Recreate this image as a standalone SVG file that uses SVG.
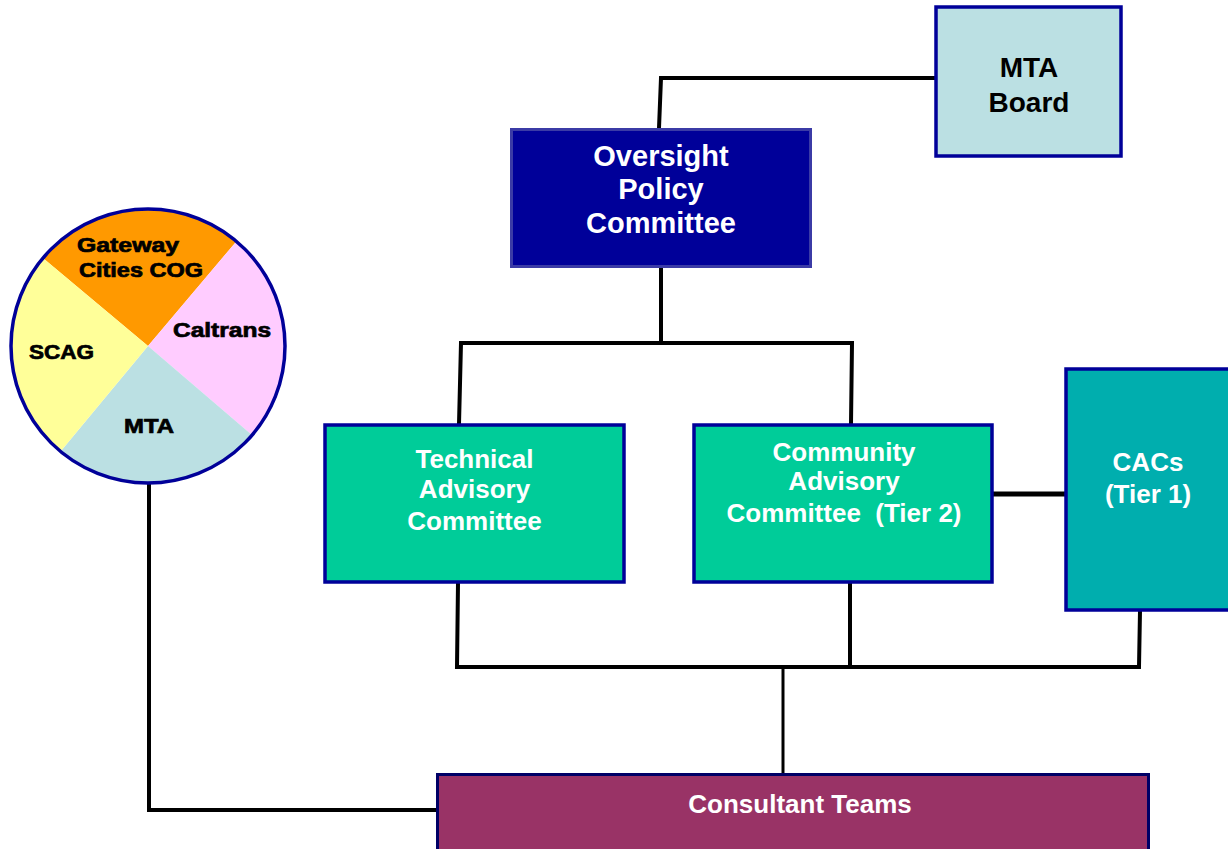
<svg xmlns="http://www.w3.org/2000/svg" width="1228" height="849" viewBox="0 0 1228 849">
<style>
.t{font-family:"Liberation Sans",Arial,sans-serif;font-weight:bold;text-anchor:middle}
.w{fill:#ffffff}
.k{fill:#000000;stroke:#000000;stroke-width:0.7}
.c{fill:none;stroke:#000000;stroke-width:4;stroke-linejoin:miter}
.bx{stroke:#000099;stroke-width:3.5}
</style>
<rect width="1228" height="849" fill="#ffffff"/>
<g id="connectors">
<path class="c" d="M935,78 H661 L659,128"/>
<path class="c" d="M661,268 V343"/>
<path class="c" d="M459,424 L461,343 H852 L851,424"/>
<path class="c" d="M458,583 L457,667 H1139 L1140,611"/>
<path class="c" d="M850,583 V667"/>
<path class="c" d="M783,667 V773" style="stroke-width:3"/>
<path class="c" d="M993,494 H1065" style="stroke-width:5"/>
<path class="c" d="M149,484 V810 H436"/>
</g>
<g id="partners">
<path d="M148,346 L43.5,258.4 A137,137 0 0 1 235.9,241.9 Z" fill="#FF9900"/>
<path d="M148,346 L235.9,241.9 A137,137 0 0 1 252.5,435.6 Z" fill="#FFCCFF"/>
<path d="M148,346 L252.5,435.6 A137,137 0 0 1 60.1,452.1 Z" fill="#BBE0E3"/>
<path d="M148,346 L60.1,452.1 A137,137 0 0 1 43.5,258.4 Z" fill="#FFFF99"/>
<circle cx="148" cy="346" r="137" fill="none" stroke="#000099" stroke-width="3.5"/>
<text class="t k" x="128" y="252" font-size="20" textLength="102" lengthAdjust="spacingAndGlyphs">Gateway</text>
<text class="t k" x="141" y="277" font-size="20" textLength="124" lengthAdjust="spacingAndGlyphs">Cities COG</text>
<text class="t k" x="222" y="337" font-size="20" textLength="98" lengthAdjust="spacingAndGlyphs">Caltrans</text>
<text class="t k" x="61.5" y="359" font-size="20" textLength="65" lengthAdjust="spacingAndGlyphs">SCAG</text>
<text class="t k" x="149" y="433" font-size="20" textLength="50" lengthAdjust="spacingAndGlyphs">MTA</text>
</g>
<g id="mta-board">
<rect class="bx" x="936" y="7" width="185" height="149" fill="#BBE0E3"/>
<text class="t" x="1029" y="77" font-size="28" fill="#000000">MTA</text>
<text class="t" x="1029" y="112" font-size="28" fill="#000000">Board</text>
</g>
<g id="oversight">
<rect x="511.5" y="129.5" width="299" height="137" fill="#000099" stroke="#3B3BA6" stroke-width="3"/>
<text class="t w" x="661" y="166" font-size="29">Oversight</text>
<text class="t w" x="661" y="199" font-size="29">Policy</text>
<text class="t w" x="661" y="233" font-size="29">Committee</text>
</g>
<g id="technical">
<rect class="bx" x="325" y="425" width="299" height="157" fill="#00CC99"/>
<text class="t w" x="474.5" y="468" font-size="26">Technical</text>
<text class="t w" x="474.5" y="498" font-size="26">Advisory</text>
<text class="t w" x="474.5" y="530" font-size="26">Committee</text>
</g>
<g id="community">
<rect class="bx" x="694" y="425" width="298" height="157" fill="#00CC99"/>
<text class="t w" x="844" y="461" font-size="26">Community</text>
<text class="t w" x="844" y="490" font-size="26">Advisory</text>
<text class="t w" x="844" y="522" font-size="26" xml:space="preserve">Committee  (Tier 2)</text>
</g>
<g id="cacs">
<rect class="bx" x="1066" y="369" width="166" height="241" fill="#00AEAE"/>
<text class="t w" x="1148" y="471" font-size="26">CACs</text>
<text class="t w" x="1148" y="503" font-size="26">(Tier 1)</text>
</g>
<g id="consultants">
<rect x="437.5" y="774.5" width="711" height="76" fill="#993366" stroke="#000066" stroke-width="3"/>
<text class="t w" x="800" y="813" font-size="26">Consultant Teams</text>
</g>
</svg>
